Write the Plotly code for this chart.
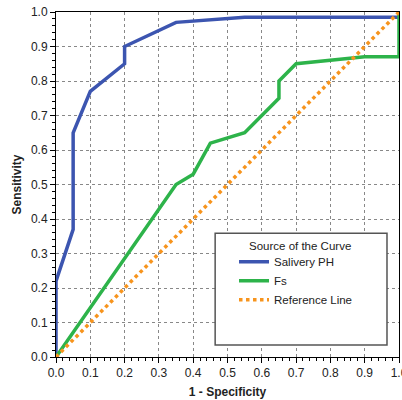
import plotly.graph_objects as go

ph_x = [0, 0, 0.05, 0.05, 0.1, 0.2, 0.2, 0.35, 0.55, 1.0, 1.0]
ph_y = [0, 0.22, 0.37, 0.65, 0.77, 0.85, 0.9, 0.97, 0.985, 0.985, 1.0]

fs_x = [0, 0.35, 0.4, 0.45, 0.55, 0.65, 0.65, 0.7, 0.9, 1.0, 1.0]
fs_y = [0, 0.5, 0.53, 0.62, 0.65, 0.75, 0.8, 0.85, 0.87, 0.87, 1.0]

ref_x = [0, 1]
ref_y = [0, 1]

ticks = [round(i * 0.1, 1) for i in range(11)]
tick_text = ["%.1f" % t for t in ticks]

fig = go.Figure()
fig.add_trace(go.Scatter(x=ph_x, y=ph_y, mode="lines", name="Salivery PH",
                         line=dict(color="#3c55b0", width=3.5)))
fig.add_trace(go.Scatter(x=fs_x, y=fs_y, mode="lines", name="Fs",
                         line=dict(color="#2db34a", width=3.5)))
fig.add_trace(go.Scatter(x=ref_x, y=ref_y, mode="lines", name="Reference Line",
                         line=dict(color="#f7941d", width=3.5, dash="dot")))

fig.add_shape(type="rect", xref="paper", yref="paper", x0=0.464, x1=0.965, y0=0.035, y1=0.359,
              line=dict(color="#555555", width=1.5), fillcolor="white", layer="above")
fig.add_annotation(text="Source of the Curve", xref="paper", yref="paper", x=0.711, y=0.322,
                   showarrow=False, xanchor="center", yanchor="middle",
                   font=dict(size=11.5, color="#222222"))

axis_common = dict(
    range=[0, 1], tickvals=ticks, ticktext=tick_text,
    showgrid=True, gridcolor="#888888", griddash="dot", gridwidth=1,
    zeroline=False, showline=True, linecolor="black", linewidth=1, mirror=True,
    ticks="outside", ticklen=5, tickcolor="black", ticklabeloverflow="allow",
    automargin=False,
    minor=dict(dtick=0.02, ticks="outside", ticklen=3, tickcolor="black", showgrid=False),
    tickfont=dict(family="Liberation Sans, Arial", size=12, color="#222222"),
)

fig.update_layout(
    width=402, height=400,
    margin=dict(l=56, r=3, t=12, b=43, autoexpand=False),
    paper_bgcolor="white", plot_bgcolor="white",
    font=dict(family="Liberation Sans, Arial", size=12, color="#222222"),
    xaxis=dict(**axis_common, title=dict(text="<b>1 - Specificity</b>", font=dict(size=12), standoff=8)),
    yaxis=dict(**axis_common, title=dict(text="<b>Sensitivity</b>", font=dict(size=12), standoff=6)),
    legend=dict(x=0.519, y=0.318, xanchor="left", yanchor="top",
                bgcolor="rgba(0,0,0,0)", borderwidth=0,
                font=dict(size=11.5), tracegroupgap=0),
)

fig.write_html("out.html", config={"displayModeBar": False},
               post_script="document.body.style.margin='0';document.body.style.padding='0';")
